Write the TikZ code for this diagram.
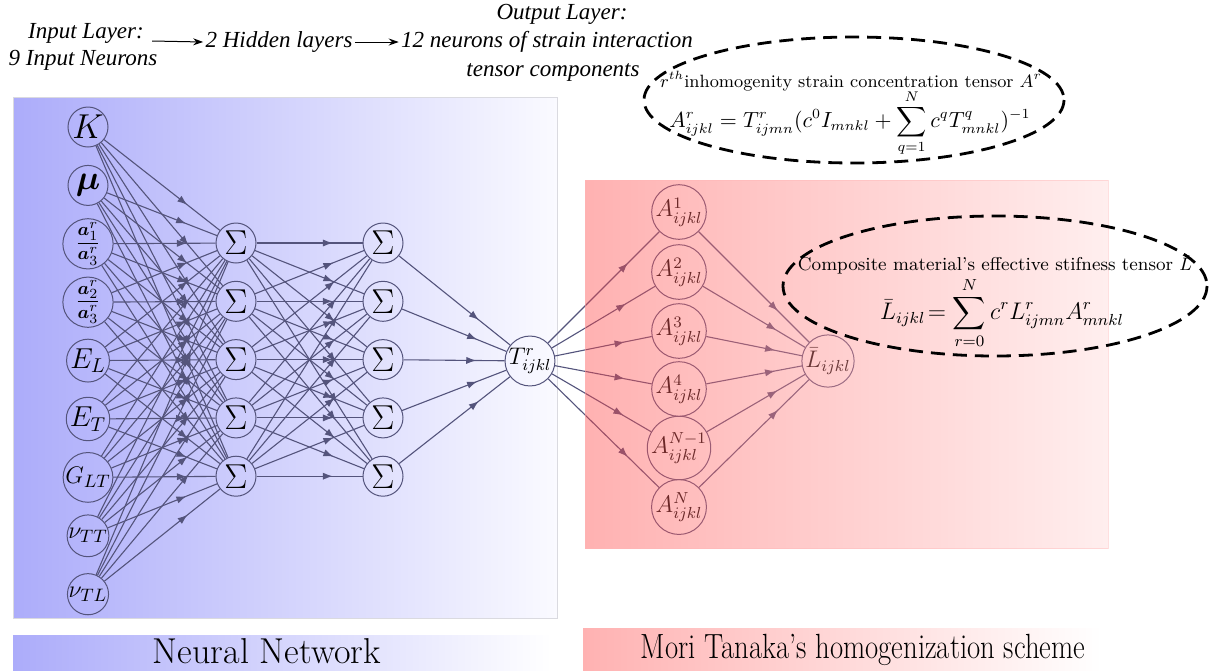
\documentclass[tikz,border=0pt]{standalone}
\usepackage{amsmath}
\usepackage{amssymb}
\usepackage{bm}
\usepackage{fontspec}
\newfontfamily\topfont{Liberation Serif}
\definecolor{netblue}{RGB}{172,172,250}
\definecolor{netwhite}{RGB}{250,250,255}
\definecolor{mtpink}{RGB}{255,70,70}
\definecolor{mtpale}{RGB}{255,215,215}
\definecolor{barpink}{RGB}{255,178,178}
\definecolor{linkgray}{RGB}{84,84,124}
\definecolor{panelgray}{RGB}{218,218,224}
\usetikzlibrary{arrows.meta, positioning, decorations.markings, shapes.geometric}

\begin{document}
\begin{tikzpicture}[x=0.5pt, y=-0.5pt,
    neuron/.style={circle, draw=linkgray, line width=0.5pt, minimum size=20pt, inner sep=0pt},
    link/.style={draw=linkgray, line width=0.55pt, postaction={decorate},
      decoration={markings, mark=at position 0.72 with {\arrow{Latex[length=5pt,width=3.6pt]}}}},
    sumfont/.style={font=\fontsize{19}{21}\selectfont},
    midfont/.style={font=\fontsize{12}{13}\selectfont},
    toptext/.style={font=\fontsize{11.5}{13}\selectfont\topfont\itshape, inner sep=1pt},
    bubble/.style={draw, dash pattern=on 7pt off 4pt, line width=1.4pt},
  ]
\useasboundingbox (0,0) rectangle (1210,670);

% Neural network panel
\shadedraw[left color=netblue, right color=netwhite, draw=panelgray] (13,97) rectangle (557,618);

% Input layer
\foreach \lab/\sz [count=\i] in {{$K$}/17, {$\bm{\mu}$}/17, {$\dfrac{\bm{a}^r_1}{\bm{a}^r_3}$}/9.5, {$\dfrac{\bm{a}^r_2}{\bm{a}^r_3}$}/9.5,
    {$E_L$}/14, {$E_T$}/14, {$G_{LT}$}/12.5, {$\nu_{TT}$}/13, {$\nu_{TL}$}/13}
  \node[neuron, font=\fontsize{\sz}{\sz}\selectfont] (in\i) at (88, {127+58.4*(\i-1)}) {\lab};

% Hidden layers
\foreach \i in {1,...,5} {
  \node[neuron, sumfont] (ha\i) at (236, {243+58.3*(\i-1)}) {$\Sigma$};
  \node[neuron, sumfont] (hb\i) at (383, {243+58.3*(\i-1)}) {$\Sigma$};
}

% Output neuron
\node[neuron, midfont, minimum size=19pt] (tr) at (530,361) {$T^r_{ijkl}$};

% Connections
\foreach \i in {1,...,9}
  \foreach \j in {1,...,5}
    \draw[link] (in\i) -- (ha\j);
\foreach \i in {1,...,5} {
  \foreach \j in {1,...,5}
    \draw[link] (ha\i) -- (hb\j);
  \draw[link] (hb\i) -- (tr);
}

% Mori Tanaka nodes
\foreach \lab/\yy [count=\i] in {1/212, 2/272, 3/331, 4/389, {N-1}/448, N/507}
  \node[neuron, midfont] (am\i) at (679,\yy) {$A^{\lab}_{ijkl}$};
\node[neuron, midfont] (lbar) at (828,361) {$\bar{L}_{ijkl}$};
\foreach \i in {1,...,6} {
  \draw[link] (tr) -- (am\i);
  \draw[link] (am\i) -- (lbar);
}

% Mori Tanaka panel
\shadedraw[left color=mtpink, right color=mtpale, draw=mtpink!40, opacity=0.42] (585,180) rectangle (1108,548);

% Strain concentration tensor
\draw[bubble] (854,100) ellipse [x radius=210, y radius=63];
\node[font=\fontsize{8.9}{11}\selectfont] (atitle) at (851,81) {$r^{th}$inhomogenity strain concentration tensor $A^r$};
\node[font=\fontsize{10.5}{12}\selectfont] (aeq) at (850,123)
  {$\displaystyle A^r_{ijkl} = T^r_{ijmn}(c^0 I_{mnkl} + \sum_{q=1}^{N} c^q T^q_{mnkl})^{-1}$};

% Effective stiffness tensor
\draw[bubble] (995,286) ellipse [x radius=212, y radius=70];
\node[font=\fontsize{9.3}{12}\selectfont] (ltitle) at (995,265) {Composite material's effective stifness tensor $\bar{L}$};
\node[font=\fontsize{11.5}{13}\selectfont] (leq) at (1002,313)
  {$\displaystyle \bar{L}_{ijkl}\!= \sum_{r=0}^{N} c^r L^r_{ijmn} A^r_{mnkl}$};

% Layer descriptions
\node[toptext] (inlayer) at (86,33) {Input Layer:};
\node[toptext] (inneurons) at (83,60) {9 Input Neurons};
\node[toptext] (hidlayer) at (279,42) {2 Hidden layers};
\node[toptext] (outlayer) at (562,14) {Output Layer:};
\node[toptext] (outneurons) at (547,42) {12 neurons of strain interaction};
\node[toptext] (outtensor) at (553,72) {tensor components};
\draw[-{Stealth[length=5pt,width=3.5pt]}, line width=0.5pt] ([xshift=3pt,yshift=-4pt]inlayer.east) -- (hidlayer.west);
\draw[-{Stealth[length=5pt,width=3.5pt]}, line width=0.5pt] (hidlayer.east) -- (outneurons.west);

% Bottom captions
\shade[left color=netblue, right color=white] (13,635) rectangle (552,670);
\node[font=\fontsize{18}{20}\selectfont] (nncap) at (267,651) {Neural Network};
\shade[left color=barpink, right color=white] (583,628) rectangle (1102,670);
\node[font=\fontsize{17.5}{19}\selectfont] (mtcap) at (863,650) {\scalebox{0.82}[1]{Mori Tanaka's homogenization scheme}};
\end{tikzpicture}
\end{document}
